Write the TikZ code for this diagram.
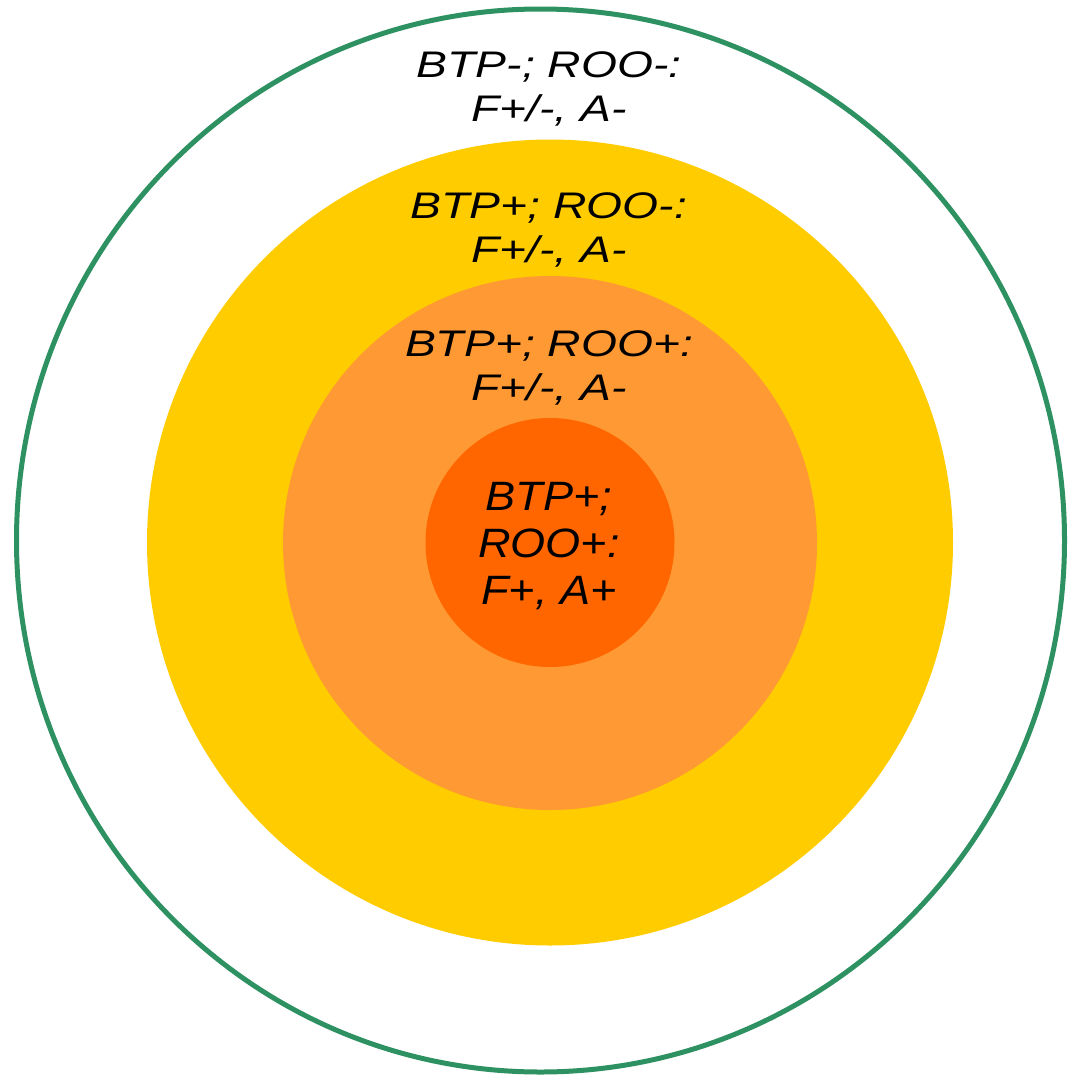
\documentclass[tikz,border=0pt]{standalone}
\usepackage{fontspec}
\newfontfamily\labfont{Liberation Sans}[FakeStretch=1.25]
\newfontfamily\labfontc{Liberation Sans}[FakeStretch=1.1]
\definecolor{ringyellow}{HTML}{FFCC00}
\definecolor{ringorange}{HTML}{FF9933}
\definecolor{ringdark}{HTML}{FF6600}
\definecolor{ringgreen}{HTML}{2E9162}
\begin{document}
\begin{tikzpicture}[x=1pt,y=-1pt,
  lab/.style={align=center,anchor=base,inner sep=0pt,
    font=\labfont\itshape\fontsize{37}{44}\selectfont},
  labbig/.style={align=center,anchor=base,inner sep=0pt,
    font=\labfontc\itshape\fontsize{41}{47}\selectfont}]
\useasboundingbox (0,0) rectangle (1068,1076);
\fill[white] (0,0) rectangle (1068,1076);
\draw[ringgreen,line width=5pt] (540.5,540.5) ellipse [x radius=524, y radius=531.5];
\fill[ringyellow] (550,542.5) circle [radius=403];
\fill[ringorange] (550,543) circle [radius=267];
\fill[ringdark] (550,542.5) circle [radius=124.5];
\node[lab] (t1) at (549,121) {BTP-; ROO-:\\F+/-, A-};
\node[lab] (t2) at (549,262) {BTP+; ROO-:\\F+/-, A-};
\node[lab] (t3) at (549,400) {BTP+; ROO+:\\F+/-, A-};
\node[labbig] (t4) at (549,604) {BTP+;\\ROO+:\\F+, A+};
\end{tikzpicture}
\end{document}
